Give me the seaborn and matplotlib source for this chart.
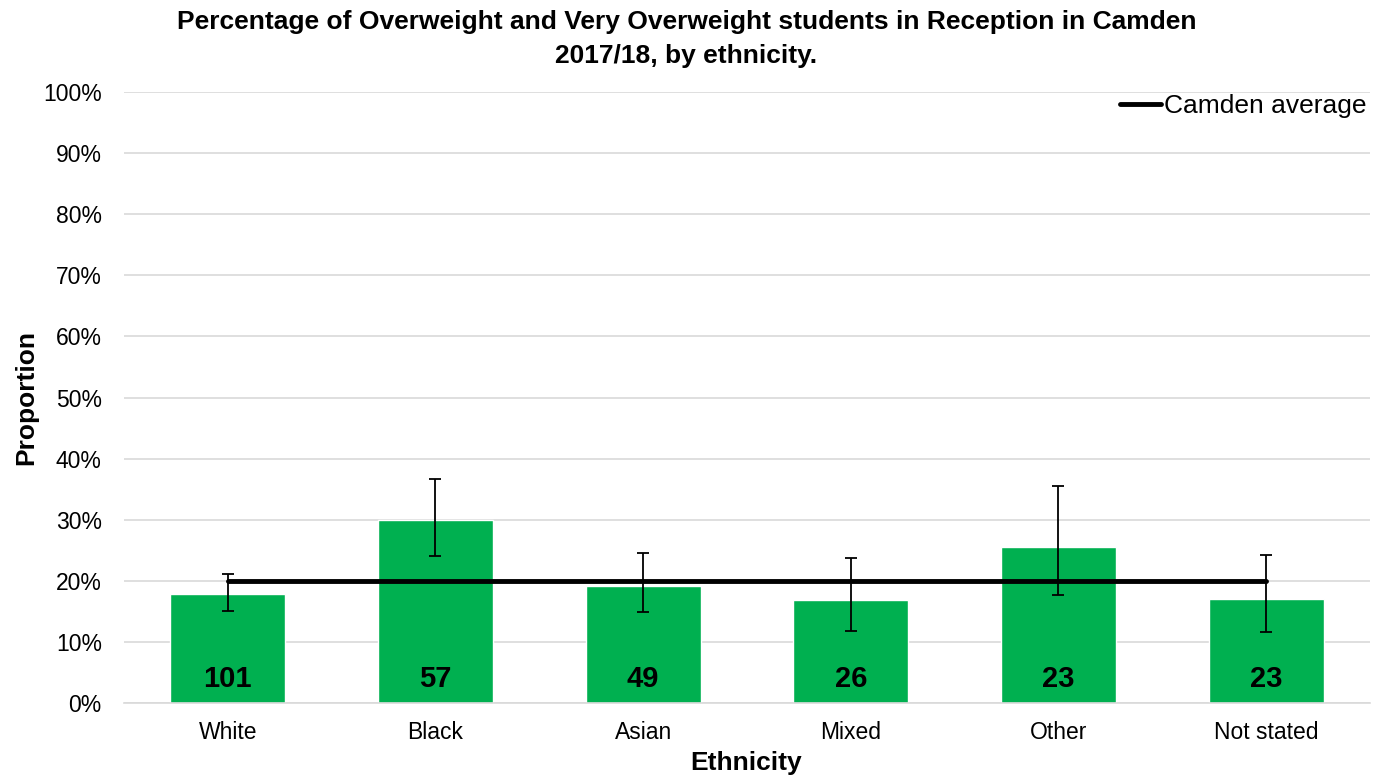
import numpy as np
import pandas as pd
import matplotlib
matplotlib.use("Agg")
import matplotlib.pyplot as plt
import seaborn as sns

# --- Data ---
ethnicity = ["White", "Black", "Asian", "Mixed", "Other", "Not stated"]
pct = [17.8, 29.9, 19.1, 16.9, 25.5, 17.0]
ci_low = [15.0, 24.0, 14.9, 11.8, 17.7, 11.6]
ci_high = [21.1, 36.7, 24.5, 23.8, 35.5, 24.3]
counts = [101, 57, 49, 26, 23, 23]
camden_avg = [20.0] * len(ethnicity)

df = pd.DataFrame({"Ethnicity": ethnicity, "Proportion": pct})

sns.set_style("white")
plt.rcParams["font.family"] = ["Liberation Sans", "DejaVu Sans"]
plt.rcParams["text.color"] = "black"
plt.rcParams["axes.labelcolor"] = "black"
plt.rcParams["xtick.color"] = "black"
plt.rcParams["ytick.color"] = "black"

fig = plt.figure(figsize=(13.73, 7.78), dpi=100)
ax = fig.add_axes([0.0903, 0.0964, 0.9075, 0.7853])

sns.barplot(data=df, x="Ethnicity", y="Proportion", color="#00B050",
            width=0.555, saturation=1, ax=ax, zorder=2)

x = np.arange(len(ethnicity))
yerr = [np.array(pct) - np.array(ci_low), np.array(ci_high) - np.array(pct)]
ax.errorbar(x, pct, yerr=yerr, fmt="none", ecolor="black", elinewidth=1.3,
            capsize=4.5, capthick=1.3, zorder=4)

ax.plot(x, camden_avg, color="black", lw=3.5, zorder=3, label="Camden average")

for xi, n in zip(x, counts):
    ax.text(xi, 4, str(n), ha="center", va="center", fontsize=21,
            fontweight="bold", color="black", zorder=5)

ax.set_ylim(0, 100)
ax.set_xlim(-0.5, len(ethnicity) - 0.5)
ax.set_yticks(range(0, 101, 10))
ax.set_yticklabels([f"{v}%" for v in range(0, 101, 10)], fontsize=16.5)
ax.tick_params(axis="x", labelsize=16.5, length=0, pad=13)
ax.tick_params(axis="y", length=0, pad=16)
ax.yaxis.grid(True, color="#D9D9D9", lw=1.2, zorder=0)
ax.set_axisbelow(True)
for s in ["top", "right", "left"]:
    ax.spines[s].set_visible(False)
ax.spines["bottom"].set_color("#D9D9D9")
ax.spines["bottom"].set_linewidth(1.2)

ax.set_xlabel("Ethnicity", fontsize=19, fontweight="bold")
ax.set_ylabel("Proportion", fontsize=19, fontweight="bold")
ax.xaxis.set_label_coords(0.4993, -0.079)
ax.yaxis.set_label_coords(-0.069, 0.5)
fig.suptitle("Percentage of Overweight and Very Overweight students in Reception in Camden\n2017/18, by ethnicity.",
             fontsize=19, fontweight="bold", x=0.5, y=0.987, va="top", linespacing=1.5)

ax.legend(loc="upper right", bbox_to_anchor=(1.016, 1.035), frameon=False,
          fontsize=19, handlelength=1.55, handletextpad=0.1)

fig.savefig("out.png", dpi=100)
